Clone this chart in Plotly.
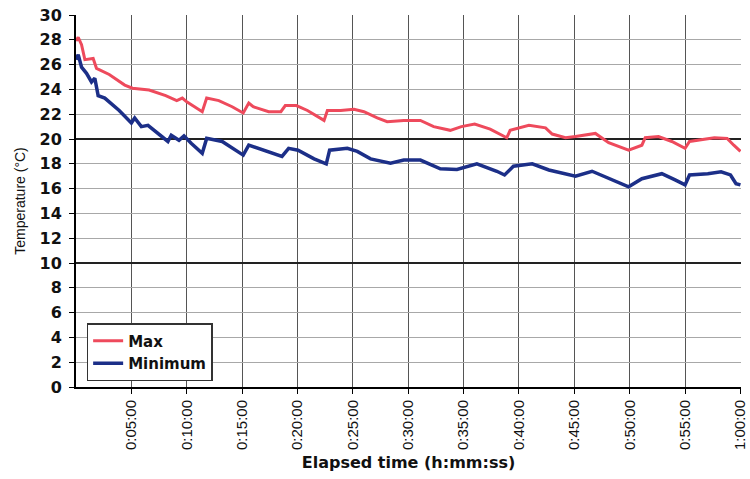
import plotly.graph_objects as go

# elapsed time in minutes
max_t = [0, 0.2, 0.5, 0.8, 1.55, 1.85, 3.0, 4.4, 5.1, 6.6,
         8.1, 9.1, 9.6, 10.0, 11.4, 11.8, 12.9, 14.1, 15.1, 15.6,
         16.0, 17.4, 18.5, 18.9, 19.9, 20.9, 22.4, 22.7, 23.9, 25.1,
         26.0, 27.2, 28.1, 29.6, 31.1, 32.3, 33.8, 34.8, 36.0, 37.4,
         38.9, 39.2, 40.9, 42.4, 43.0, 44.2, 45.1, 46.9, 48.1, 49.9,
         51.1, 51.4, 52.6, 53.8, 55.0, 55.4, 57.65, 58.8, 59.4, 60]
max_v = [27.9, 28.2, 27.6, 26.4, 26.5, 25.7, 25.2, 24.35, 24.1, 23.95,
         23.5, 23.1, 23.3, 23.0, 22.2, 23.3, 23.1, 22.6, 22.1, 22.9,
         22.6, 22.2, 22.2, 22.7, 22.7, 22.3, 21.5, 22.3, 22.3, 22.4,
         22.2, 21.7, 21.4, 21.5, 21.5, 21.0, 20.7, 21.0, 21.2, 20.8,
         20.1, 20.7, 21.1, 20.9, 20.4, 20.1, 20.2, 20.45, 19.7, 19.1,
         19.5, 20.1, 20.2, 19.8, 19.25, 19.8, 20.1, 20.05, 19.5, 19.0]

min_t = [0, 0.2, 0.5, 0.95, 1.4, 1.7, 2.0, 2.6, 3.9, 5.0,
         5.3, 5.9, 6.5, 8.3, 8.6, 9.3, 9.75, 10.4, 11.4, 11.8,
         13.2, 15.1, 15.6, 17.4, 18.6, 19.2, 20.05, 21.5, 22.6, 22.9,
         24.5, 25.4, 26.6, 28.4, 29.6, 31.1, 32.9, 34.4, 36.2, 38.0,
         38.7, 39.5, 41.2, 42.7, 44.2, 45.1, 46.6, 48.1, 49.9, 51.1,
         52.9, 54.1, 55.0, 55.4, 57.05, 58.25, 59.1, 59.6, 60]
min_v = [26.4, 26.8, 25.8, 25.3, 24.6, 24.9, 23.5, 23.3, 22.3, 21.3,
         21.7, 21.0, 21.1, 19.8, 20.3, 19.9, 20.25, 19.65, 18.85, 20.05,
         19.8, 18.7, 19.5, 19.0, 18.6, 19.25, 19.1, 18.4, 18.0, 19.1,
         19.25, 19.0, 18.4, 18.05, 18.3, 18.3, 17.6, 17.55, 18.0, 17.4,
         17.1, 17.8, 18.0, 17.5, 17.2, 17.0, 17.4, 16.8, 16.15, 16.8,
         17.2, 16.7, 16.3, 17.1, 17.2, 17.35, 17.1, 16.4, 16.3]

x_tickvals = [5, 10, 15, 20, 25, 30, 35, 40, 45, 50, 55, 60]
x_ticktext = ["0:05:00", "0:10:00", "0:15:00", "0:20:00", "0:25:00", "0:30:00",
              "0:35:00", "0:40:00", "0:45:00", "0:50:00", "0:55:00", "1:00:00"]

fig = go.Figure()
fig.add_trace(go.Scatter(x=max_t, y=max_v, mode="lines", name="Max",
                         line=dict(color="#ee4a5c", width=3)))
fig.add_trace(go.Scatter(x=min_t, y=min_v, mode="lines", name="Minimum",
                         line=dict(color="#1c2f88", width=3.5)))
# invisible helper trace for the darker major grid
fig.add_trace(go.Scatter(x=[None], y=[None], yaxis="y2", showlegend=False, hoverinfo="skip"))

fig.update_layout(
    width=750, height=479,
    margin=dict(l=76, r=9, t=15, b=92, autoexpand=False),
    paper_bgcolor="white", plot_bgcolor="white",
    showlegend=True,
    legend=dict(x=0.016, y=0.172, xanchor="left", yanchor="top",
                bgcolor="white", bordercolor="#333333", borderwidth=1.5,
                font=dict(family="DejaVu Sans", size=15, color="#111111", weight="bold"),
                itemwidth=30, tracegroupgap=0),
    xaxis=dict(range=[0, 60.05], tickvals=x_tickvals, ticktext=x_ticktext,
               tickangle=-90, showgrid=True, gridcolor="#555555", gridwidth=1.2,
               showline=True, linecolor="black", linewidth=2,
               ticks="outside", ticklen=5, tickcolor="black",
               ticklabeloverflow="allow",
               tickfont=dict(family="Liberation Sans", size=15, color="#111111"),
               title=dict(text="Elapsed time (h:mm:ss)", standoff=8,
                          font=dict(family="DejaVu Sans", size=16, color="#111111", weight="bold")),
               zeroline=False, automargin=False),
    yaxis=dict(range=[0, 30], dtick=2, tick0=0, showgrid=True, gridcolor="#a8a8a8", gridwidth=1,
               showline=True, linecolor="black", linewidth=2,
               ticks="outside", ticklen=5, tickcolor="black",
               tickfont=dict(family="DejaVu Sans", size=16, color="#111111", weight="bold"),
               ticklabelstandoff=4,
               title=dict(text="Temperature (\u00b0C)", standoff=11,
                          font=dict(family="Liberation Sans", size=14, color="#111111")),
               zeroline=False, automargin=False),
    yaxis2=dict(range=[0, 30], dtick=10, tick0=0, overlaying="y", side="left",
                showgrid=True, gridcolor="#222222", gridwidth=1.5,
                showticklabels=False, showline=False, zeroline=False, ticks=""),
)

fig.write_html("out.html")
